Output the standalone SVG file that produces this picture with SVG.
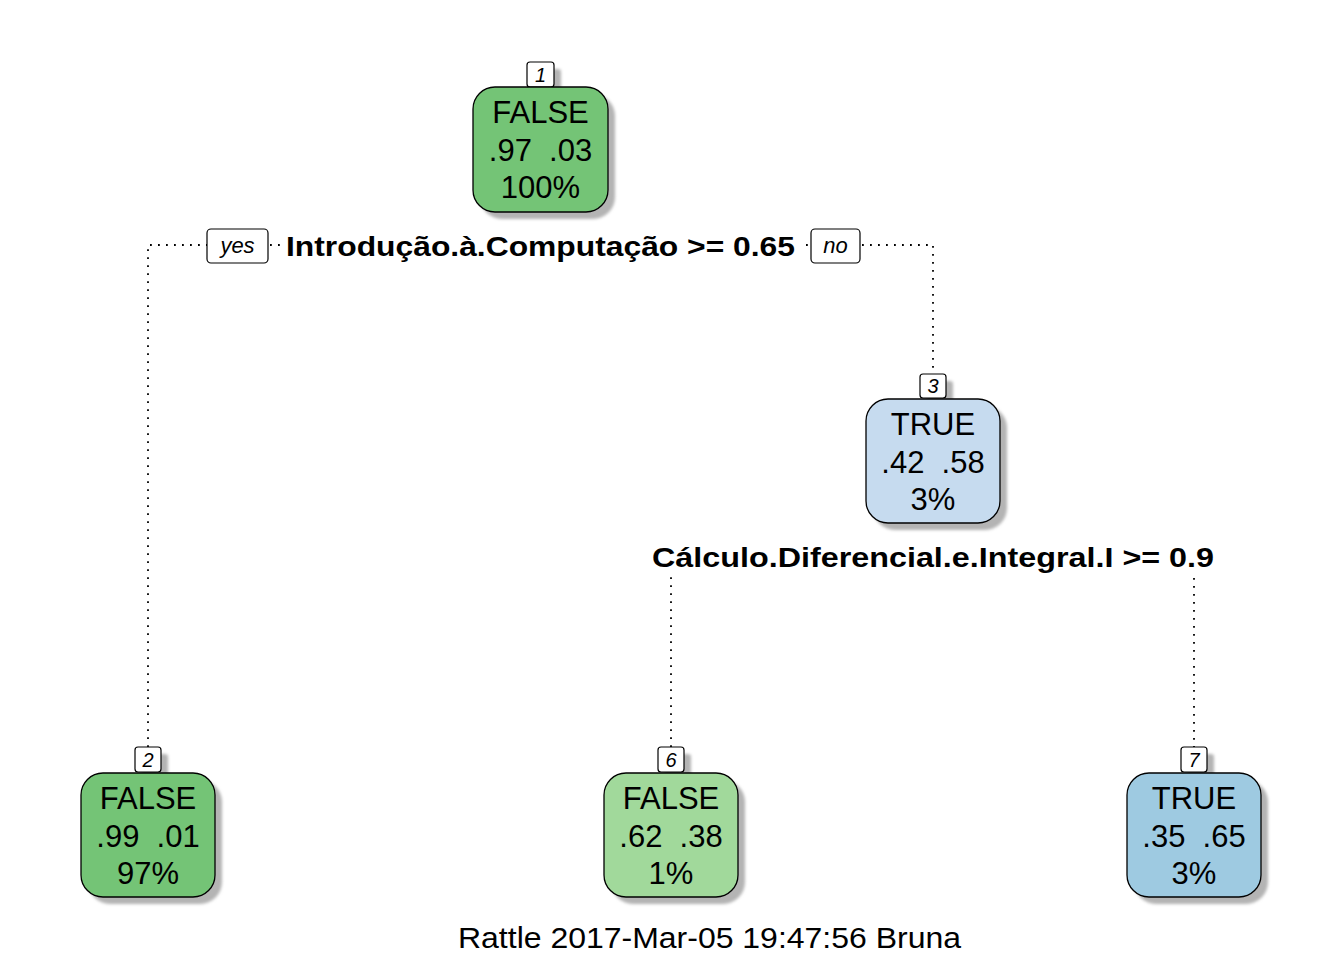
<svg xmlns="http://www.w3.org/2000/svg" width="1344" height="960" viewBox="0 0 1344 960">
<defs>
<filter id="sh" x="-20%" y="-20%" width="140%" height="140%"><feGaussianBlur stdDeviation="1.5"/></filter>
</defs>
<style>
text{font-family:"Liberation Sans",Arial,sans-serif;fill:#000}
.node{stroke:#000;stroke-width:1.3}
.shadow{fill:#b4b4b4;filter:url(#sh)}
.lab{fill:#fff;stroke:#000;stroke-width:1.2}
.nt{font-size:31px;text-anchor:middle;white-space:pre}
.num{font-size:20px;font-style:italic;text-anchor:middle}
.split{font-size:28px;font-weight:bold}
.yn{font-size:22px;font-style:italic;text-anchor:middle}
.conn{fill:none;stroke:#000;stroke-width:1.8;stroke-dasharray:1.8 6.2}
</style>
<rect width="1344" height="960" fill="#fff"/>
<g id="connectors">
<polyline class="conn" points="148,747 148,245 933,245 933,374"/>
<polyline class="conn" points="671,747 671,556 1194,556 1194,747"/>
</g>
<g id="split1">
<rect x="280" y="228" width="521" height="36" fill="#fff"/>
<text class="split" x="286" y="256" textLength="509" lengthAdjust="spacingAndGlyphs">Introdução.à.Computação &gt;= 0.65</text>
<rect x="207" y="229" width="61" height="34" rx="4" class="lab"/>
<text class="yn" x="237.5" y="253">yes</text>
<rect x="811" y="229" width="49" height="34" rx="4" class="lab"/>
<text class="yn" x="835.5" y="253">no</text>
</g>
<g id="split3">
<rect x="646" y="539" width="574" height="36" fill="#fff"/>
<text class="split" x="652" y="567" textLength="562" lengthAdjust="spacingAndGlyphs">Cálculo.Diferencial.e.Integral.I &gt;= 0.9</text>
</g>
<g id="node1">
<rect x="534" y="69" width="27" height="25" rx="3" class="shadow"/>
<rect x="480" y="94" width="135" height="125" rx="22" class="shadow"/>
<rect x="527" y="62" width="27" height="25" rx="3" class="lab"/>
<text class="num" x="540.5" y="82">1</text>
<rect x="473" y="87" width="135" height="125" rx="22" class="node" fill="#74c476"/>
<text class="nt" x="540.5" y="122.5">FALSE</text>
<text class="nt" x="540.5" y="160.5">.97  .03</text>
<text class="nt" x="540.5" y="198">100%</text>
</g>
<g id="node3">
<rect x="927" y="381" width="26" height="24" rx="3" class="shadow"/>
<rect x="873" y="406" width="134" height="124" rx="22" class="shadow"/>
<rect x="920" y="374" width="26" height="24" rx="3" class="lab"/>
<text class="num" x="933" y="393">3</text>
<rect x="866" y="399" width="134" height="124" rx="22" class="node" fill="#c6dbef"/>
<text class="nt" x="933" y="434.5">TRUE</text>
<text class="nt" x="933" y="472.5">.42  .58</text>
<text class="nt" x="933" y="510">3%</text>
</g>
<g id="node2">
<rect x="142" y="754" width="26" height="25" rx="3" class="shadow"/>
<rect x="88" y="780" width="134" height="124" rx="22" class="shadow"/>
<rect x="135" y="747" width="26" height="25" rx="3" class="lab"/>
<text class="num" x="148" y="767">2</text>
<rect x="81" y="773" width="134" height="124" rx="22" class="node" fill="#74c476"/>
<text class="nt" x="148" y="808.5">FALSE</text>
<text class="nt" x="148" y="846.5">.99  .01</text>
<text class="nt" x="148" y="884">97%</text>
</g>
<g id="node6">
<rect x="665" y="754" width="26" height="25" rx="3" class="shadow"/>
<rect x="611" y="780" width="134" height="124" rx="22" class="shadow"/>
<rect x="658" y="747" width="26" height="25" rx="3" class="lab"/>
<text class="num" x="671" y="767">6</text>
<rect x="604" y="773" width="134" height="124" rx="22" class="node" fill="#a1d99b"/>
<text class="nt" x="671" y="808.5">FALSE</text>
<text class="nt" x="671" y="846.5">.62  .38</text>
<text class="nt" x="671" y="884">1%</text>
</g>
<g id="node7">
<rect x="1188" y="754" width="26" height="25" rx="3" class="shadow"/>
<rect x="1134" y="780" width="134" height="124" rx="22" class="shadow"/>
<rect x="1181" y="747" width="26" height="25" rx="3" class="lab"/>
<text class="num" x="1194" y="767">7</text>
<rect x="1127" y="773" width="134" height="124" rx="22" class="node" fill="#9ecae1"/>
<text class="nt" x="1194" y="808.5">TRUE</text>
<text class="nt" x="1194" y="846.5">.35  .65</text>
<text class="nt" x="1194" y="884">3%</text>
</g>
<text x="458" y="948" font-size="29" textLength="503" lengthAdjust="spacingAndGlyphs">Rattle 2017-Mar-05 19:47:56 Bruna</text>
</svg>
